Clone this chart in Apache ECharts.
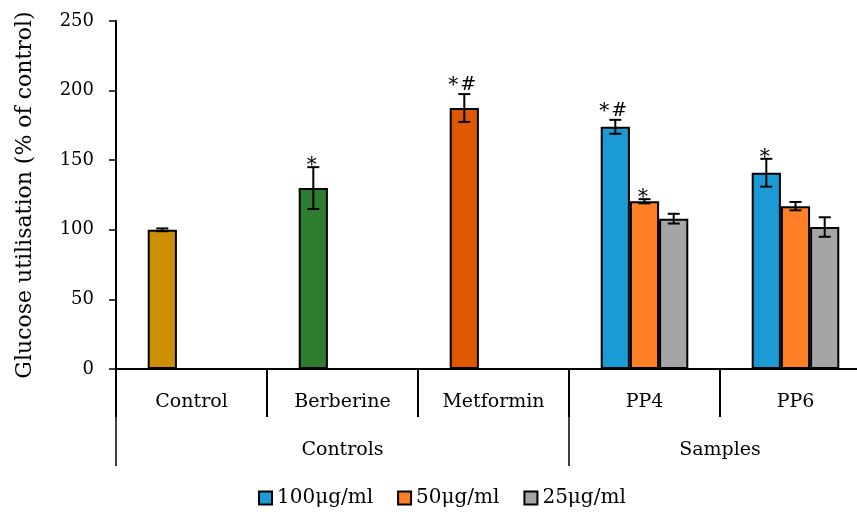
<!DOCTYPE html>
<html><head><meta charset="utf-8">
<script src="https://cdn.jsdelivr.net/npm/echarts@6/dist/echarts.min.js"></script>
<style>html,body{margin:0;padding:0;background:#fff}#c{width:857px;height:516px}</style>
</head><body><div id="c"></div>
<script>
const categories = ['Control', 'Berberine', 'Metformin', 'PP4', 'PP6'];
const groupLabels = ['Controls', 'Samples'];
const groupCenters = [1.5, 4];
const groupBounds = [0, 3];
const seriesNames = ['100μg/ml', '50μg/ml', '25μg/ml'];
const s100 = [100, 130, 187.5, 174, 141];
const s50 = [null, null, null, 120.5, 117];
const s25 = [null, null, null, 108, 102];
const e100 = [1, 15, 10, 5, 10];
const e50 = [null, null, null, 1.5, 3];
const e25 = [null, null, null, 3.5, 7];
const notes100 = ['', '*', '*#', '*#', '*'];
const notes50 = ['', '', '', '*', ''];
const notes25 = ['', '', '', '', ''];
const controlColors = ['#CC8F00', '#2E7D2E', '#DF5800'];
const seriesColors = ['#1B9AD6', '#FF7F27', '#A5A5A5'];
const yTicks = [0, 50, 100, 150, 200, 250];

const FONT = 'DejaVu Serif';
const GAP = 0.42;
const vals = [s100, s50, s25], errs = [e100, e50, e25], notes = [notes100, notes50, notes25];

const errData = [];
const errNotes = [];
vals.forEach((arr, si) => arr.forEach((v, ci) => {
  if (v != null) { errData.push([ci, v, errs[si][ci], si]); errNotes.push(notes[si][ci]); }
}));

const barSeries = vals.map((arr, si) => ({
  name: seriesNames[si], type: 'bar', xAxisIndex: 0, yAxisIndex: 0,
  barGap: '0%', barCategoryGap: (GAP * 100) + '%',
  itemStyle: { color: seriesColors[si], borderColor: '#000', borderWidth: 2 },
  data: arr.map((v, ci) => (si === 0 && ci < 3) ? { value: v, itemStyle: { color: controlColors[ci] } } : v),
  emphasis: { disabled: true }
}));

const chart = echarts.init(document.getElementById('c'), null, { renderer: 'canvas' });
chart.setOption({
  animation: false,
  grid: { left: 116, width: 755, top: 21, bottom: 147, containLabel: false, outerBoundsMode: 'none' },
  legend: {
    data: seriesNames.map(n => ({ name: n, itemStyle: { borderColor: '#000', borderWidth: 2 } })),
    bottom: 3, left: 253, itemWidth: 13, itemHeight: 13, itemGap: 24,
    icon: 'rect',
    textStyle: { fontFamily: FONT, fontSize: 20, color: '#000', padding: [0, 0, 0, 0] }
  },
  xAxis: [{
    type: 'category', data: categories, boundaryGap: true,
    axisLine: { lineStyle: { color: '#000', width: 2 } },
    axisTick: { show: true, interval: 0, length: 48, lineStyle: { color: '#000', width: 2 } },
    axisLabel: { interval: 0, margin: 24, fontFamily: FONT, fontSize: 19, color: '#000' }
  }, {
    type: 'value', min: 0, max: 5, position: 'bottom', gridIndex: 0,
    axisLine: { show: false }, splitLine: { show: false },
    axisTick: { show: true, inside: false, length: 97, customValues: groupBounds, lineStyle: { color: '#000', width: 1.5 } },
    axisLabel: { show: true, margin: 72, fontFamily: FONT, fontSize: 19, color: '#000',
      customValues: groupCenters,
      formatter: v => groupLabels[groupCenters.indexOf(v)] }
  }],
  yAxis: {
    type: 'value', min: 0, max: 250, interval: 50,
    name: 'Glucose utilisation (% of control)', nameLocation: 'middle', nameGap: 80,
    nameTextStyle: { fontFamily: FONT, fontSize: 22, color: '#000' },
    axisLine: { show: true, lineStyle: { color: '#000', width: 2 } },
    axisTick: { show: true, length: 7, lineStyle: { color: '#000', width: 1.5 } },
    splitLine: { show: false },
    axisLabel: { fontFamily: FONT, fontSize: 18, color: '#000', margin: 22,
      customValues: yTicks }
  },
  series: barSeries.concat([{
    type: 'custom', xAxisIndex: 0, yAxisIndex: 0, z: 10,
    data: errData,
    renderItem: function (params, api) {
      const x = api.value(0), v = api.value(1), e = api.value(2), slot = api.value(3);
      const band = api.size([1, 0])[0];
      const bw = band * (1 - GAP) / 3;
      const c = api.coord([x, v]);
      const cx = c[0] + (slot - 1) * bw;
      const top = api.coord([x, v + e])[1], bot = api.coord([x, v - e])[1];
      const cap = 6;
      const st = { stroke: '#000', lineWidth: 2 };
      const note = errNotes[params.dataIndex];
      const ch = [
        { type: 'line', shape: { x1: cx, y1: top, x2: cx, y2: bot }, style: st },
        { type: 'line', shape: { x1: cx - cap, y1: top, x2: cx + cap, y2: top }, style: st },
        { type: 'line', shape: { x1: cx - cap, y1: bot, x2: cx + cap, y2: bot }, style: st }
      ];
      const txt = (s, tx, ty, size) => ({ type: 'text', style: { text: s, x: tx, y: ty, align: 'center', verticalAlign: 'middle',
        font: size + 'px "' + FONT + '"', fill: '#000' } });
      if (note === '*') ch.push(txt('*', cx - 1.5, top - 1, 20));
      else if (note === '*#') { ch.push(txt('*', cx - 11, top - 8, 20)); ch.push(txt('#', cx + 4, top - 9, 19)); }
      return { type: 'group', children: ch };
    }
  }])
});
</script></body></html>
